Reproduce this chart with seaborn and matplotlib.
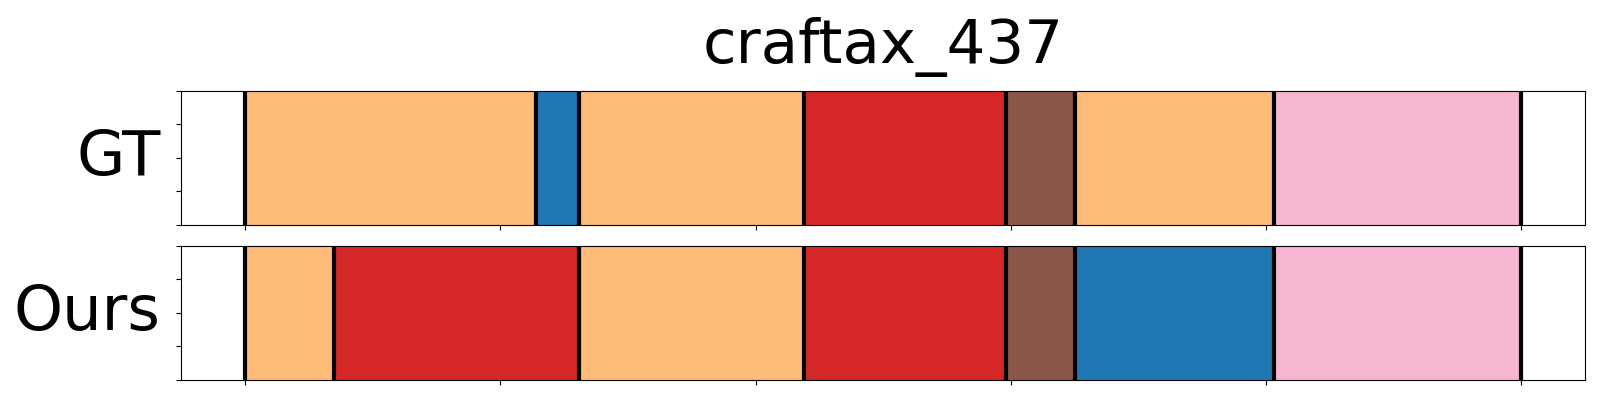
import matplotlib
matplotlib.use("Agg")
import matplotlib.pyplot as plt
import seaborn as sns
import pandas as pd

title = "craftax_437"
row_names = ["GT", "Ours"]

gt_bounds = [0, 114, 131, 219, 298, 325, 403, 500]
gt_labels = ["orange", "blue", "orange", "red", "brown", "orange", "pink"]

ours_bounds = [0, 35, 131, 219, 298, 325, 403, 500]
ours_labels = ["orange", "red", "orange", "red", "brown", "blue", "pink"]

x_ticks = [0, 100, 200, 300, 400, 500]
y_ticks = [0, 0.25, 0.5, 0.75, 1.0]

palette = {
    "orange": "#ffbb78",
    "blue": "#1f77b4",
    "red": "#d62728",
    "brown": "#8c564b",
    "pink": "#f7b6d2",
}

sns.set_theme(style="ticks", rc={
    "axes.edgecolor": "black",
    "xtick.color": "black",
    "ytick.color": "black",
    "text.color": "black",
    "axes.labelcolor": "black",
    "axes.linewidth": 0.8,
    "xtick.major.size": 3.5,
    "ytick.major.size": 3.5,
    "xtick.major.width": 0.8,
    "ytick.major.width": 0.8,
})
plt.rcParams["font.family"] = ["DejaVu Sans"]

fig = plt.figure(figsize=(16, 4), dpi=100)
left, right = 0.1133, 0.9906
ax1 = fig.add_axes([left, 0.4375, right - left, 0.773 - 0.4375])
ax2 = fig.add_axes([left, 0.05, right - left, 0.386 - 0.05])

for ax, bounds, labels, name in [(ax1, gt_bounds, gt_labels, row_names[0]),
                                 (ax2, ours_bounds, ours_labels, row_names[1])]:
    df = pd.DataFrame({
        "start": bounds[:-1],
        "dur": [b - a for a, b in zip(bounds[:-1], bounds[1:])],
        "lab": labels,
    })
    ax.barh(y=0.5, width=df["dur"], left=df["start"], height=1.0,
            color=[palette[l] for l in df["lab"]], linewidth=0)
    for b in bounds:
        ax.axvline(b, color="black", linewidth=3)
    ax.set_xlim(bounds[0] - 0.05 * (bounds[-1] - bounds[0]),
                bounds[-1] + 0.05 * (bounds[-1] - bounds[0]))
    ax.set_ylim(0, 1)
    ax.set_xticks(x_ticks)
    ax.set_xticklabels([])
    ax.set_yticks(y_ticks)
    ax.set_yticklabels([])
    ax.set_ylabel(name, fontsize=45, rotation=0, ha="right", va="center",
                  labelpad=8)
    for s in ax.spines.values():
        s.set_visible(True)
        s.set_zorder(5)

ax1.set_title(title, fontsize=44, pad=20)

fig.savefig("out.png", dpi=100)
